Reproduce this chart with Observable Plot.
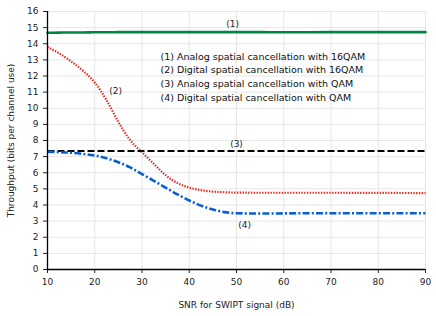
<!DOCTYPE html>
<html><head><meta charset="utf-8">
<script src="https://cdn.jsdelivr.net/npm/d3@7"></script>
<script src="https://cdn.jsdelivr.net/npm/@observablehq/plot@0.6"></script>
<style>body{margin:0;background:#fff}</style>
</head><body><div id="chart"></div>
<script>
const snr =       [10,   12.5, 15,   17.5, 20,   22.5, 25,   27.5, 30,   32.5, 35,   37.5, 40,   42.5, 45,   47.5, 50,   55,   60,   70,   80,   90];
const analog16 =  [14.68,14.69,14.7, 14.7, 14.71,14.71,14.72,14.72,14.72,14.72,14.72,14.72,14.72,14.72,14.72,14.72,14.72,14.72,14.71,14.72,14.72,14.72];
const digital16 = [13.8, 13.4, 12.9, 12.33,11.6, 10.5, 9.15, 8.02, 7.27, 6.55, 5.85, 5.36, 5.08, 4.92, 4.83, 4.79, 4.77, 4.76, 4.76, 4.76, 4.75, 4.74];
const analogQ =   [7.35, 7.35, 7.35, 7.35, 7.35, 7.35, 7.35, 7.35, 7.35, 7.35, 7.35, 7.35, 7.35, 7.35, 7.35, 7.35, 7.35, 7.35, 7.35, 7.35, 7.35, 7.35];
const digitalQ =  [7.3,  7.28, 7.24, 7.17, 7.07, 6.9,  6.65, 6.33, 5.92, 5.5,  5.08, 4.66, 4.28, 3.96, 3.72, 3.56, 3.49, 3.47, 3.48, 3.49, 3.49, 3.49];
const seriesNames = ["(1)","(2)","(3)","(4)"];
const legendLines = [
  "(1) Analog spatial cancellation with 16QAM",
  "(2) Digital spatial cancellation with 16QAM",
  "(3) Analog spatial cancellation with QAM",
  "(4) Digital spatial cancellation with QAM"
];
const xTicks = [10,20,30,40,50,60,70,80,90];
const yTicks = d3.range(0,17);
const labelX = [49.2,24.4,50,51.7];
const labelY = [15.2,11.05,7.8,2.75];

const mk = ys => snr.map((x,i)=>({x, y: ys[i]}));
const curve = "monotone-x";

const chart = Plot.plot({
  width: 436, height: 316,
  marginLeft: 47, marginRight: 11, marginTop: 11, marginBottom: 47,
  style: {fontFamily: "DejaVu Sans", fontSize: "9px", background: "#fff", color: "#222"},
  x: {domain: [10,90], ticks: xTicks, tickSize: 4, label: "SNR for SWIPT signal (dB)", labelAnchor: "center", labelArrow: "none", labelOffset: 38},
  y: {domain: [0,16], ticks: yTicks, tickSize: 4, label: "Throughput (bits per channel use)", labelAnchor: "center", labelArrow: "none", labelOffset: 40},
  marks: [
    Plot.gridX(xTicks, {stroke: "#e6e6e6", strokeOpacity: 1}),
    Plot.gridY(yTicks, {stroke: "#e6e6e6", strokeOpacity: 1}),
    Plot.line(mk(analog16), {x:"x", y:"y", stroke:"#008544", strokeWidth:2.6, curve}),
    Plot.line(mk(digital16), {x:"x", y:"y", stroke:"#e0281a", strokeWidth:2.2, strokeDasharray:"1.4,1.4", strokeLinecap:"butt", curve}),
    Plot.line(mk(analogQ), {x:"x", y:"y", stroke:"#000", strokeWidth:2.2, strokeDasharray:"7,3", strokeLinecap:"butt", curve}),
    Plot.line(mk(digitalQ), {x:"x", y:"y", stroke:"#0a5fd0", strokeWidth:2.6, strokeDasharray:"7,2.2,2,2.2", strokeLinecap:"butt", curve}),
    Plot.text(seriesNames, {x: (d,i)=>labelX[i], y: (d,i)=>labelY[i], text: d=>d, fill:"#222", fontSize: 9}),
    Plot.text(legendLines, {x: 33.9, y: (d,i)=>13.2 - i*0.85, text: d=>d, textAnchor:"start", fill:"#111", fontSize: 9.5}),
    Plot.ruleX([10], {stroke:"#000", strokeWidth:1.3}),
    Plot.ruleY([0], {stroke:"#000", strokeWidth:1.3})
  ]
});
document.getElementById("chart").append(chart);
</script>
</body></html>
